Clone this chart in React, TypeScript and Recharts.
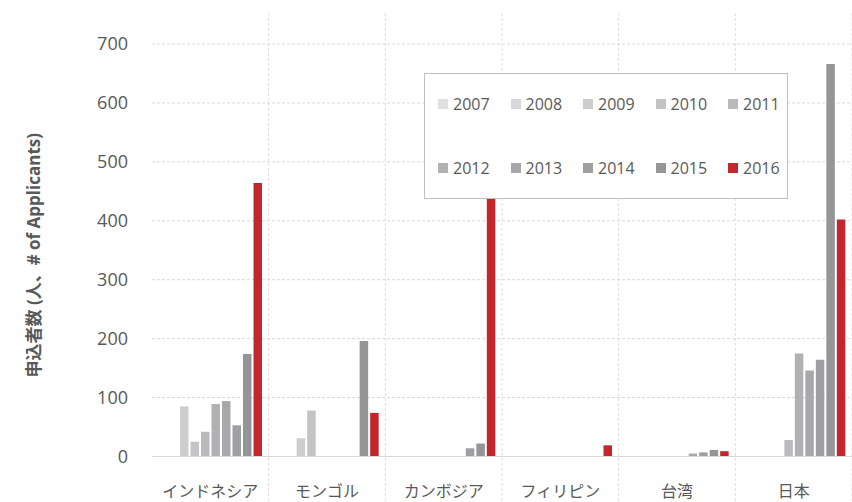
import { BarChart, Bar, XAxis, YAxis, CartesianGrid, Legend } from 'recharts';

const countries = ['インドネシア', 'モンゴル', 'カンボジア', 'フィリピン', '台湾', '日本'];
const years = ['2007', '2008', '2009', '2010', '2011', '2012', '2013', '2014', '2015', '2016'];

const v2007 = [0, 0, 0, 0, 0, 0];
const v2008 = [0, 0, 0, 0, 0, 0];
const v2009 = [85, 31, 0, 0, 0, 0];
const v2010 = [25, 78, 0, 0, 0, 0];
const v2011 = [42, 0, 0, 0, 0, 28];
const v2012 = [89, 0, 0, 0, 0, 175];
const v2013 = [94, 0, 0, 0, 5, 146];
const v2014 = [53, 0, 14, 0, 7, 164];
const v2015 = [174, 196, 22, 0, 11, 666];
const v2016 = [464, 74, 480, 19, 9, 402];

const yTicks = [0, 100, 200, 300, 400, 500, 600, 700];

const seriesValues = [v2007, v2008, v2009, v2010, v2011, v2012, v2013, v2014, v2015, v2016];
const colors = ['#e0e0e2', '#d7d7d9', '#cdcdcf', '#c4c4c6', '#bababc', '#b1b1b3', '#a8a8aa', '#9f9fa1', '#959598', '#c1272d'];

const data = countries.map((c, i) => {
  const row: any = { country: c };
  years.forEach((y, j) => { row[y] = seriesValues[j][i]; });
  return row;
});

const textColor = '#595959';

function CountryTick(props: any) {
  const { x, y, payload, width, visibleTicksCount } = props;
  const band = (width || 700) / (visibleTicksCount || 6);
  const sep = x + band / 2;
  return (
    <g>
      <line x1={sep} x2={sep} y1={13} y2={502} stroke="#dedede" strokeDasharray="3 2" />
      <text x={x} y={y + 26} textAnchor="middle" dominantBaseline="central" fontSize={16} fill={textColor}>
        {payload.value}
      </text>
    </g>
  );
}

function YTitle(props: any) {
  const vb = props.viewBox || { x: 0, y: 44, width: 152, height: 412 };
  const cx = vb.x + 33;
  const cy = vb.y + vb.height / 2 + 5;
  return (
    <text x={cx} y={cy} transform={`rotate(-90 ${cx} ${cy})`} textAnchor="middle" dominantBaseline="central"
      fontSize={17} fontWeight="bold" fill={textColor}>
      申込者数 (人、# of Applicants)
    </text>
  );
}

function LegendBox(props: any) {
  const items = props.payload || [];
  return (
    <div style={{
      width: 364, height: 126, boxSizing: 'border-box', border: '1px solid #bfbfbf', background: '#fff',
      paddingLeft: 13, paddingTop: 14, display: 'grid', gridTemplateColumns: 'repeat(5, 72.5px)',
      gridAutoRows: '32px', rowGap: 32,
    }}>
      {items.map((it: any) => (
        <div key={it.value} style={{ display: 'flex', alignItems: 'center', fontSize: 16, color: textColor }}>
          <span style={{ width: 10, height: 10, background: it.color, marginRight: 5, display: 'inline-block' }} />
          {it.value}
        </div>
      ))}
    </div>
  );
}

export default function App() {
  return (
    <div style={{ position: 'absolute', left: 0, top: 0, fontFamily: "'Open Sans', 'Noto Sans CJK JP', sans-serif" }}>
      <BarChart width={852} height={502} data={data} margin={{ top: 44, right: 0, bottom: 0, left: 0 }}
        barSize={8.5} barGap={2}>
        <CartesianGrid horizontal vertical={false} stroke="#d9d9d9" strokeDasharray="3 2" />
        <XAxis dataKey="country" height={45.5} axisLine={{ stroke: '#d9d9d9' }} tickLine={false}
          tick={<CountryTick />} interval={0} />
        <YAxis width={152} domain={[0, 700]} ticks={yTicks} axisLine={false} tickLine={false}
          tickSize={6} tickMargin={18} tick={{ fontSize: 18, fill: textColor }}
          label={<YTitle />} />
        <Legend layout="horizontal" verticalAlign="middle" align="center" content={<LegendBox />}
          wrapperStyle={{ left: 424, top: 73, width: 364, height: 126 }} />
        {years.map((y, j) => (
          <Bar key={y} dataKey={y} name={y} fill={colors[j]} isAnimationActive={false} />
        ))}
      </BarChart>
    </div>
  );
}
